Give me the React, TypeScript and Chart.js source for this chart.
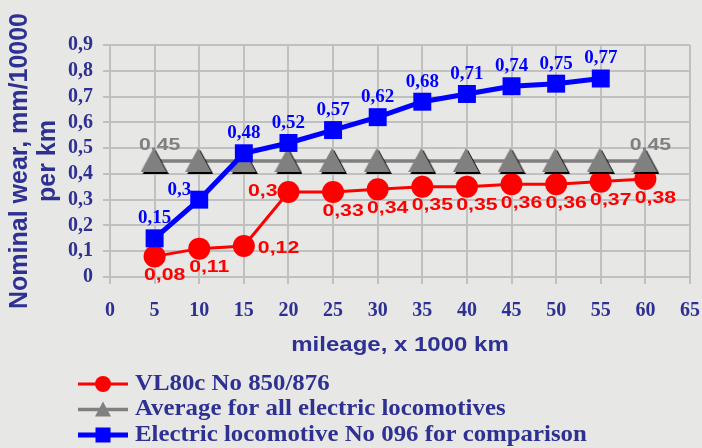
import React, { useEffect, useRef } from 'react';
import { Chart, registerables } from 'chart.js';

Chart.register(...registerables);

// ---------- data ----------
const mileage = [5, 10, 15, 20, 25, 30, 35, 40, 45, 50, 55, 60];
const vl80cValues = [0.08, 0.11, 0.12, 0.33, 0.33, 0.34, 0.35, 0.35, 0.36, 0.36, 0.37, 0.38];
const vl80cLabels = ['0,08', '0,11', '0,12', '0,3', '0,33', '0,34', '0,35', '0,35', '0,36', '0,36', '0,37', '0,38'];
const averageValues = [0.45, 0.45, 0.45, 0.45, 0.45, 0.45, 0.45, 0.45, 0.45, 0.45, 0.45, 0.45];
const averageLabels = ['0,45', '', '', '', '', '', '', '', '', '', '', '0,45'];
const loco096Mileage = [5, 10, 15, 20, 25, 30, 35, 40, 45, 50, 55];
const loco096Values = [0.15, 0.3, 0.48, 0.52, 0.57, 0.62, 0.68, 0.71, 0.74, 0.75, 0.77];
const loco096Labels = ['0,15', '0,3', '0,48', '0,52', '0,57', '0,62', '0,68', '0,71', '0,74', '0,75', '0,77'];
const seriesNames = ['VL80c No 850/876', 'Average for all electric locomotives', 'Electric locomotive No 096 for comparison'];
const xTitle = 'mileage, x 1000 km';
const yTitleLines = ['Nominal wear, mm/10000', 'per km'];

// ---------- styles ----------
const NAVY = '#2e3192';
const RED = '#ff0000';
const BLUE = '#0000ff';
const GRAY = '#808080';
const GRID = '#c0c0c0';

function makeTriangle(w: number, h: number, sh: number) {
  const c = document.createElement('canvas');
  c.width = w + sh;
  c.height = h + sh;
  const g = c.getContext('2d')!;
  const tri = (ox: number, oy: number, col: string) => {
    g.beginPath();
    g.moveTo(ox + w / 2, oy);
    g.lineTo(ox + w, oy + h);
    g.lineTo(ox, oy + h);
    g.closePath();
    g.fillStyle = col;
    g.fill();
  };
  tri(sh, sh, '#000000');
  tri(0, 0, GRAY);
  return c;
}

function drawText(
  ctx: CanvasRenderingContext2D,
  text: string,
  x: number,
  y: number,
  font: string,
  color: string,
  align: CanvasTextAlign,
  hscale = 1
) {
  if (!text) return;
  ctx.save();
  ctx.font = font;
  ctx.fillStyle = color;
  ctx.textBaseline = 'middle';
  ctx.textAlign = align;
  ctx.translate(x, y);
  ctx.scale(hscale, 1);
  ctx.fillText(text, 0, 0);
  ctx.restore();
}

const SANS_LABEL = 'bold 17px "Liberation Sans", Arial, sans-serif';
const SANS_SCALE = 1.25;
const SERIF_LABEL = 'bold 19px "Liberation Serif", "Times New Roman", serif';

const overlayPlugin = {
  id: 'overlay',
  afterDatasetsDraw(chart: any) {
    const ctx: CanvasRenderingContext2D = chart.ctx;
    // red labels
    const redMeta = chart.getDatasetMeta(0);
    redMeta.data.forEach((pt: any, i: number) => {
      const prevJump = i > 0 ? vl80cValues[i] - vl80cValues[i - 1] : 0;
      const nextJump = i < vl80cValues.length - 1 ? vl80cValues[i + 1] - vl80cValues[i] : 0;
      if (nextJump > 0.1) {
        drawText(ctx, vl80cLabels[i], pt.x + 14, pt.y + 2, SANS_LABEL, RED, 'left', SANS_SCALE);
      } else if (prevJump > 0.1) {
        drawText(ctx, vl80cLabels[i], pt.x - 11, pt.y - 1, SANS_LABEL, RED, 'right', SANS_SCALE);
      } else {
        drawText(ctx, vl80cLabels[i], pt.x + 10, pt.y + 19, SANS_LABEL, RED, 'center', SANS_SCALE);
      }
    });
    // gray labels
    const grayMeta = chart.getDatasetMeta(1);
    grayMeta.data.forEach((pt: any, i: number) => {
      drawText(ctx, averageLabels[i], pt.x + 5, pt.y - 16, SANS_LABEL, GRAY, 'center', SANS_SCALE);
    });
    // blue labels
    const blueMeta = chart.getDatasetMeta(2);
    blueMeta.data.forEach((pt: any, i: number) => {
      const prevJump = i > 0 ? loco096Values[i] - loco096Values[i - 1] : 0;
      const nextJump = i < loco096Values.length - 1 ? loco096Values[i + 1] - loco096Values[i] : 0;
      if (prevJump > 0.1 && nextJump > 0.1) {
        drawText(ctx, loco096Labels[i], pt.x - 8, pt.y - 10, SERIF_LABEL, BLUE, 'right');
      } else {
        drawText(ctx, loco096Labels[i], pt.x, pt.y - 20, SERIF_LABEL, BLUE, 'center');
      }
    });
  },
  afterDraw(chart: any) {
    const ctx: CanvasRenderingContext2D = chart.ctx;
    const area = chart.chartArea;
    // x title
    ctx.save();
    ctx.font = 'bold 20px "Liberation Sans", Arial, sans-serif';
    ctx.fillStyle = NAVY;
    ctx.textAlign = 'center';
    ctx.textBaseline = 'alphabetic';
    ctx.translate((area.left + area.right) / 2, 351);
    ctx.scale(1.2, 1);
    ctx.fillText(xTitle, 0, 0);
    ctx.restore();
    // y title
    const yc = (area.top + area.bottom) / 2;
    ctx.save();
    ctx.font = 'bold 25px "Liberation Sans", Arial, sans-serif';
    ctx.fillStyle = NAVY;
    ctx.textAlign = 'center';
    ctx.textBaseline = 'alphabetic';
    [27, 55].forEach((bx, i) => {
      ctx.save();
      ctx.translate(bx, yc);
      ctx.rotate(-Math.PI / 2);
      ctx.fillText(yTitleLines[i], 0, 0);
      ctx.restore();
    });
    ctx.restore();
    // legend
    const rows = [384, 409.5, 435];
    const lx0 = 78;
    const lx1 = 128;
    const lxc = (lx0 + lx1) / 2;
    const colors = [RED, GRAY, BLUE];
    const widths = [3, 3.5, 5];
    rows.forEach((ry, i) => {
      ctx.save();
      ctx.strokeStyle = colors[i];
      ctx.lineWidth = widths[i];
      ctx.beginPath();
      ctx.moveTo(lx0, ry);
      ctx.lineTo(lx1, ry);
      ctx.stroke();
      ctx.fillStyle = colors[i];
      if (i === 0) {
        ctx.beginPath();
        ctx.arc(lxc, ry, 8, 0, Math.PI * 2);
        ctx.fill();
      } else if (i === 1) {
        ctx.beginPath();
        ctx.moveTo(lxc, ry - 8);
        ctx.lineTo(lxc + 8, ry + 7);
        ctx.lineTo(lxc - 8, ry + 7);
        ctx.closePath();
        ctx.fill();
      } else {
        ctx.fillRect(lxc - 7.5, ry - 7.5, 15, 15);
      }
      ctx.restore();
      drawText(ctx, seriesNames[i], 135, ry, 'bold 23px "Liberation Serif", "Times New Roman", serif', NAVY, 'left', 1.08);
    });
  },
};

export default function App() {
  const canvasRef = useRef<HTMLCanvasElement | null>(null);

  useEffect(() => {
    const canvas = canvasRef.current;
    if (!canvas) return;
    const triangle = makeTriangle(26, 24, 2);
    const tickFont = { family: '"Liberation Serif", "Times New Roman", serif', size: 20, weight: 'bold' as const };
    const chart = new Chart(canvas, {
      type: 'line',
      data: {
        datasets: [
          {
            label: seriesNames[0],
            data: mileage.map((x, i) => ({ x, y: vl80cValues[i] })),
            borderColor: RED,
            backgroundColor: RED,
            borderWidth: 3,
            pointStyle: 'circle',
            pointRadius: 11,
            pointBorderWidth: 0,
            pointBackgroundColor: RED,
            order: 3,
          },
          {
            label: seriesNames[1],
            data: mileage.map((x, i) => ({ x, y: averageValues[i] })),
            borderColor: GRAY,
            backgroundColor: GRAY,
            borderWidth: 3.5,
            pointStyle: triangle as any,
            pointRadius: 13,
            order: 2,
          },
          {
            label: seriesNames[2],
            data: loco096Mileage.map((x, i) => ({ x, y: loco096Values[i] })),
            borderColor: BLUE,
            backgroundColor: BLUE,
            borderWidth: 5,
            pointStyle: 'rect',
            pointRadius: 12.7,
            pointBorderWidth: 0,
            pointBackgroundColor: BLUE,
            order: 1,
          },
        ],
      },
      options: {
        responsive: false,
        animation: false,
        events: [],
        layout: { autoPadding: false, padding: { top: 45, right: 12, left: 0, bottom: 0 } },
        plugins: {
          legend: { display: false },
          tooltip: { enabled: false },
          title: { display: false },
        },
        scales: {
          x: {
            type: 'linear',
            min: 0,
            max: 65,
            ticks: { stepSize: 5, autoSkip: false, maxRotation: 0, font: tickFont, color: NAVY, padding: 15 },
            grid: { color: GRID, lineWidth: 2, tickLength: 7, drawTicks: true },
            border: { color: GRID, width: 2 },
            afterFit: (s: any) => {
              s.height = 171;
              s.paddingLeft = 0;
              s.paddingRight = 0;
            },
          },
          y: {
            type: 'linear',
            min: 0,
            max: 0.9,
            ticks: {
              stepSize: 0.1,
              autoSkip: false,
              font: tickFont,
              color: NAVY,
              padding: 10,
              callback: (v: any) => (Number(v) === 0 ? '0' : Number(v).toFixed(1).replace('.', ',')),
            },
            grid: { color: GRID, lineWidth: 2, tickLength: 7, drawTicks: true },
            border: { color: GRID, width: 2 },
            afterFit: (s: any) => {
              s.width = 110;
              s.paddingTop = 0;
              s.paddingBottom = 0;
            },
          },
        },
      },
      plugins: [overlayPlugin],
    });
    return () => chart.destroy();
  }, []);

  return (
    <div
      style={{
        position: 'fixed',
        left: 0,
        top: 0,
        width: 702,
        height: 448,
        background: '#e7e7e5',
        overflow: 'hidden',
      }}
    >
      <canvas ref={canvasRef} width={702} height={448} style={{ display: 'block' }} />
    </div>
  );
}
